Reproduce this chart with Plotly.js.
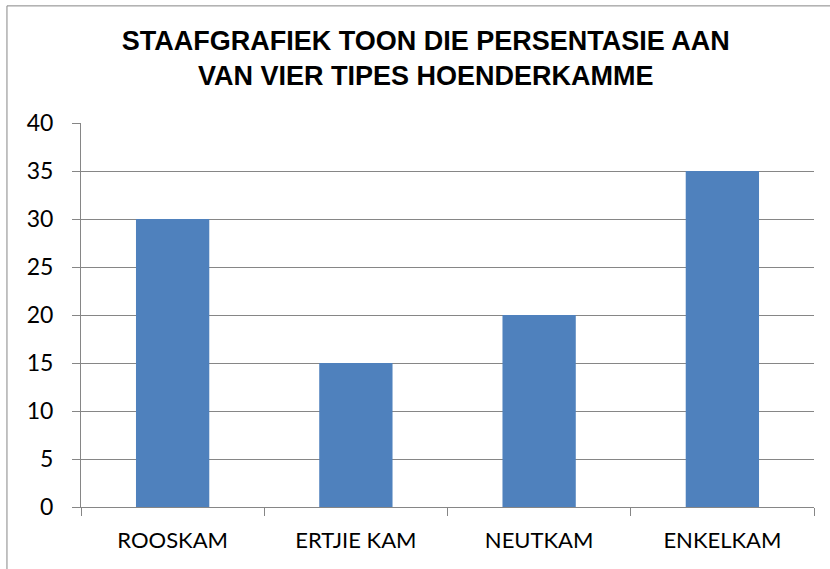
<!DOCTYPE html>
<html>
<head>
<meta charset="utf-8">
<script src="https://cdn.plot.ly/plotly-3.0.1.min.js"></script>
<style>html,body{margin:0;padding:0;background:#fff;}#chart{width:830px;height:569px;}</style>
</head>
<body>
<div id="chart"></div>
<script>
var categories = ["ROOSKAM", "ERTJIE KAM", "NEUTKAM", "ENKELKAM"];
var percentages = [30, 15, 20, 35];
var yTickValues = [0, 5, 10, 15, 20, 25, 30, 35, 40];
var chartTitle = "STAAFGRAFIEK TOON DIE PERSENTASIE AAN<br>VAN VIER TIPES HOENDERKAMME";

var trace = {
  type: "bar",
  x: categories,
  y: percentages,
  marker: {color: "#4F81BD"},
  hoverinfo: "x+y"
};

var layout = {
  width: 830,
  height: 569,
  margin: {l: 81, r: 16, t: 123, b: 62},
  paper_bgcolor: "#ffffff",
  plot_bgcolor: "#ffffff",
  bargap: 0.6,
  showlegend: false,
  title: {
    text: chartTitle,
    font: {family: "Liberation Sans, Arial, sans-serif", size: 27, color: "#000000", weight: "bold"},
    x: 0.513,
    xanchor: "center",
    xref: "container",
    y: 1 - 50 / 569,
    yref: "container",
    yanchor: "top"
  },
  xaxis: {
    type: "category",
    tickson: "boundaries",
    ticks: "outside",
    ticklen: 8,
    tickcolor: "#868686",
    tickwidth: 1,
    showline: true,
    linecolor: "#868686",
    linewidth: 1,
    showgrid: false,
    tickfont: {family: "Lato, Noto Sans, sans-serif", size: 22, color: "#000000"},
    ticklabelstandoff: 14
  },
  yaxis: {
    range: [0, 40],
    tickvals: yTickValues,
    ticks: "outside",
    ticklen: 8,
    tickcolor: "#868686",
    showline: true,
    linecolor: "#868686",
    linewidth: 1,
    showgrid: true,
    gridcolor: "#868686",
    gridwidth: 1,
    zeroline: false,
    tickfont: {family: "Lato, Noto Sans, sans-serif", size: 23, color: "#000000"},
    ticklabelstandoff: 14
  },
  shapes: [{
    type: "rect",
    xref: "paper", yref: "paper",
    x0: -0.101, x1: 1.2,
    y0: -0.4, y1: 1.305,
    line: {color: "#868686", width: 1},
    fillcolor: "rgba(0,0,0,0)",
    layer: "below"
  }]
};

Plotly.newPlot("chart", [trace], layout, {displayModeBar: false, responsive: false});
</script>
</body>
</html>
